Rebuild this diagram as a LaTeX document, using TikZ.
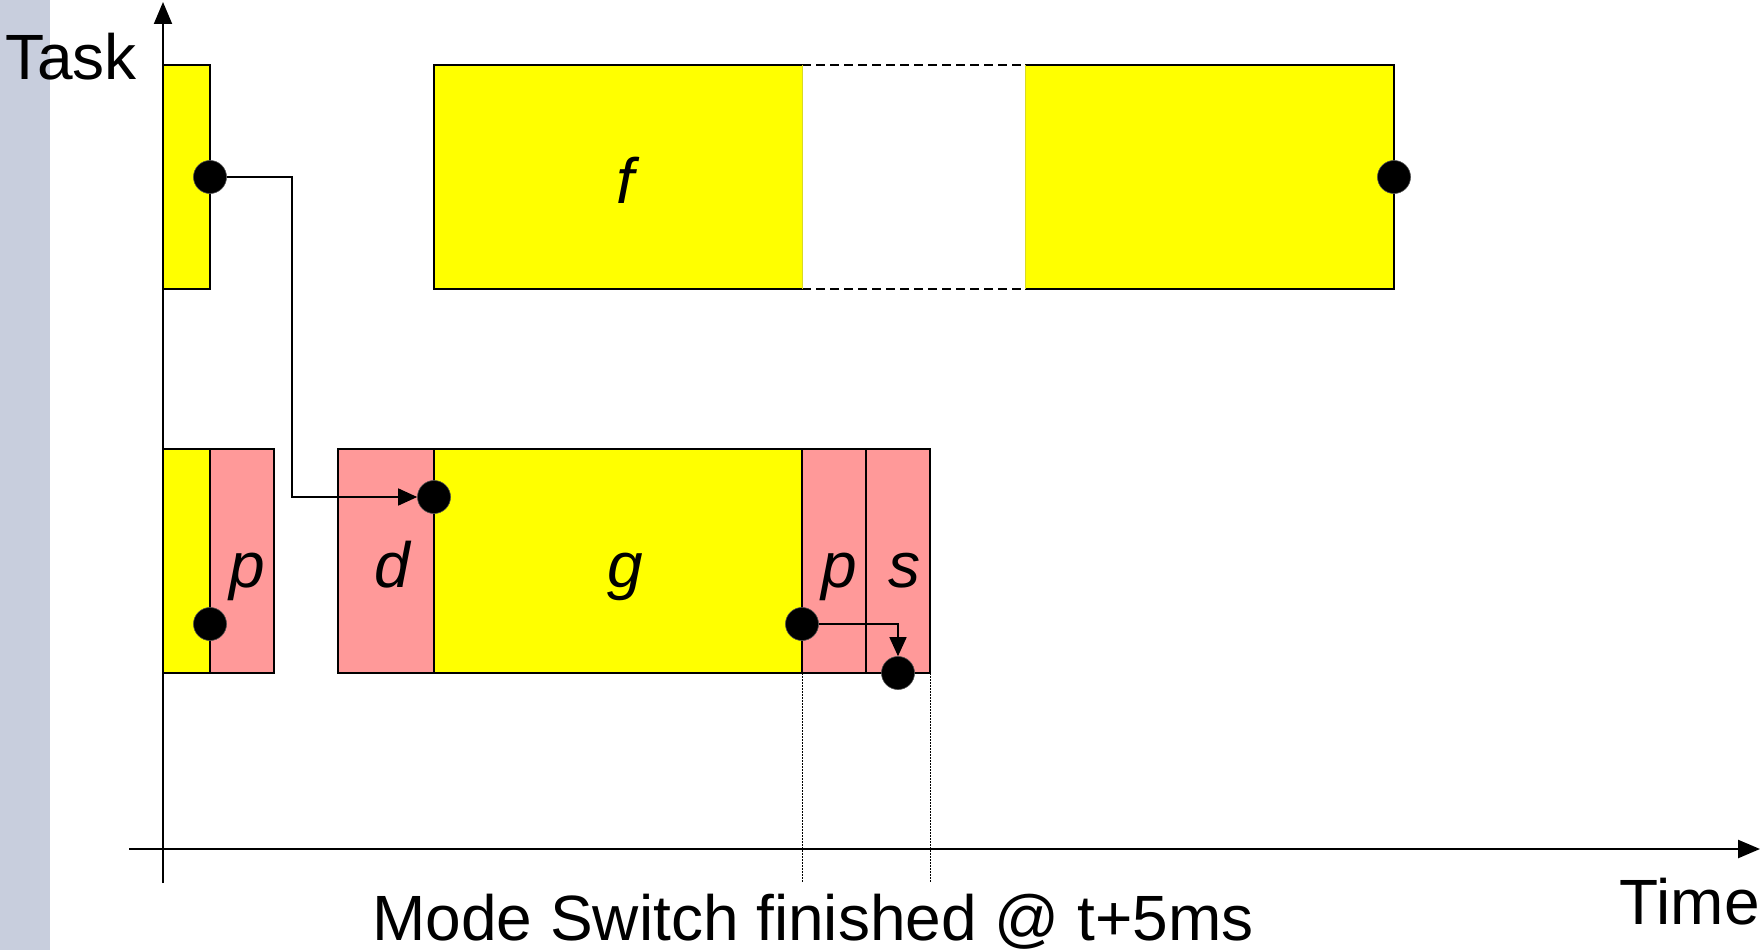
\documentclass[tikz,border=0pt]{standalone}
\usepackage{fontspec}
\setmainfont{Liberation Sans}
\usetikzlibrary{arrows.meta,positioning}
\definecolor{taskyellow}{HTML}{FFFF00}
\definecolor{switchpink}{HTML}{FF9999}
\definecolor{bargris}{HTML}{C8CEDD}

\begin{document}
\begin{tikzpicture}[
    x=1pt, y=-1pt,
    font=\fontsize{64}{70}\selectfont,
    runbox/.style={rectangle, draw=black, line width=2pt, fill=taskyellow,
      inner sep=0pt, outer sep=0pt, minimum height=224pt, text height=52pt, text depth=0pt,
      font=\fontsize{64}{70}\selectfont\itshape},
    modebox/.style={runbox, fill=switchpink},
    halfbox/.style={runbox, draw=none},
    event/.style={circle, fill=black, draw=black!70, line width=0.6pt,
      minimum size=33pt, inner sep=0pt},
    axe/.style={line width=2pt, -{Triangle[length=22pt,width=18pt]}},
    msg/.style={line width=1.5pt, -{Triangle[length=19pt,width=17pt]}},
    trou/.style={line width=2pt, dash pattern=on 9pt off 5pt},
    bord/.style={line width=1pt, draw=taskyellow!70!gray},
    repere/.style={line width=1pt, dash pattern=on 1.5pt off 1.5pt}
  ]
    \useasboundingbox (0,0) rectangle (1763,950);
    \fill[bargris] (0,0) rectangle (50,950);
    % axes
    \draw[axe] (163,883) -- (163,2);
    \draw[axe, line width=2.5pt] (129,849) -- (1760,849);
    \node[anchor=base west, inner sep=0pt] (task) at (5,79) {Task};
    \node[anchor=base east, inner sep=0pt] (time) at (1760,924) {Time};
    % upper task
    \node[runbox, anchor=north west, minimum width=47pt] (init) at (163,65) {};
    \node[halfbox, anchor=north west, minimum width=368pt] (f1) at (434,65) {\hspace{14pt}f};
    \node[halfbox, anchor=north west, minimum width=369pt] (f2) at (1025,65) {};
    \draw[line width=2pt] (f1.south east) -| (f1.north west) -- (f1.north east);
    \draw[line width=2pt] (f2.north west) -| (f2.south east) -- (f2.south west);
    \draw[trou] (f1.north east) -- (f2.north west);
    \draw[trou] (f1.south east) -- (f2.south west);
    \draw[bord] (f1.north east) -- (f1.south east);
    \draw[bord] (f2.north west) -- (f2.south west);
    % lower task
    \node[runbox, anchor=north west, minimum width=47pt] (y1) at (163,449) {};
    \node[modebox, right=0pt of y1, minimum width=64pt] (p1) {\hspace{10pt}p};
    \node[modebox, anchor=north west, minimum width=96pt] (d) at (338,449) {\hspace{12pt}d};
    \node[runbox, right=0pt of d, minimum width=368pt] (g) {\hspace{14pt}g};
    \node[modebox, right=0pt of g, minimum width=64pt] (p2) {\hspace{10pt}p};
    \node[modebox, right=0pt of p2, minimum width=64pt] (s) {\hspace{12pt}s};
    % events
    \node[event] (e1) at (init.east) {};
    \node[event] (e2) at (434,497) {};
    \node[event] (e3) at (f2.east) {};
    \node[event] (e4) at (210,624) {};
    \node[event] (e5) at (802,624) {};
    \node[event] (e6) at (s.south) {};
    \coordinate (k1) at (292,177);
    \draw[msg] (e1) -- (k1) |- (e2);
    \draw[msg] (e5) -| (e6);
    % mode switch
    \coordinate (t1) at (802,883);
    \coordinate (t2) at (930,883);
    \draw[repere] (g.south east) -- (t1);
    \draw[repere] (s.south east) -- (t2);
    \node[anchor=base, inner sep=0pt] (fin) at (813,940) {Mode Switch finished @ t+5ms};
  \end{tikzpicture}
\end{document}
